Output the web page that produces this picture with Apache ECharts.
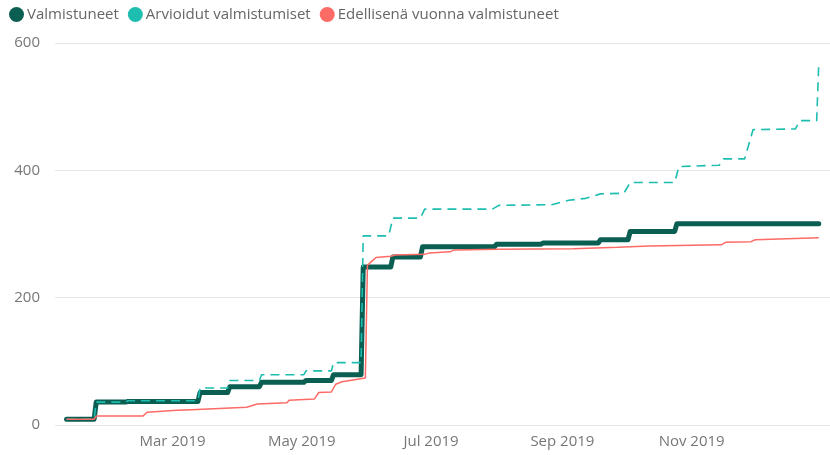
<!DOCTYPE html>
<html>
<head>
<meta charset="utf-8">
<script src="https://cdn.jsdelivr.net/npm/echarts@6/dist/echarts.min.js"></script>
<style>
  html, body { margin: 0; padding: 0; background: #ffffff; }
  #chart { width: 830px; height: 455px; }
</style>
</head>
<body>
<div id="chart"></div>
<script>
// Series names as shown in the legend
const seriesNames = ['Valmistuneet', 'Arvioidut valmistumiset', 'Edellisenä vuonna valmistuneet'];

// Cumulative completions (daily change points)
const completedDates = ['2019-01-10','2019-01-23','2019-01-24','2019-02-07','2019-02-08','2019-03-13','2019-03-14',
  '2019-03-27','2019-03-28','2019-04-11','2019-04-12','2019-05-02','2019-05-03','2019-05-15','2019-05-16',
  '2019-05-29','2019-05-30','2019-06-12','2019-06-13','2019-06-26','2019-06-27','2019-07-31','2019-08-01',
  '2019-08-22','2019-08-23','2019-09-18','2019-09-19','2019-10-02','2019-10-03','2019-10-24','2019-10-25','2019-12-31'];
const completedValues = [9, 9, 36, 36, 37, 37, 51,
  51, 60, 60, 67, 67, 70, 70, 79,
  79, 248, 248, 264, 264, 280, 280, 284,
  284, 286, 286, 291, 291, 304, 304, 316, 316];

// Estimated cumulative completions
const estimatedDates = ['2019-01-10','2019-01-23','2019-01-24','2019-02-07','2019-02-08','2019-03-13','2019-03-14',
  '2019-03-27','2019-03-28','2019-04-11','2019-04-12','2019-05-02','2019-05-03','2019-05-15','2019-05-16',
  '2019-05-29','2019-05-30','2019-06-11','2019-06-13','2019-06-26','2019-06-28','2019-07-30','2019-08-02',
  '2019-08-27','2019-09-04','2019-09-12','2019-09-19','2019-09-30','2019-10-03','2019-10-24','2019-10-26',
  '2019-11-14','2019-11-16','2019-11-26','2019-11-30','2019-12-20','2019-12-22','2019-12-30','2019-12-31'];
const estimatedValues = [9, 9, 36, 36, 38, 38, 58,
  58, 70, 70, 79, 79, 85, 85, 98,
  98, 297, 297, 325, 325, 339, 339, 345,
  346, 353, 356, 363, 364, 381, 381, 406,
  408, 418, 418, 464, 465, 478, 478, 569];

// Previous year's cumulative completions
const prevYearDates = ['2019-01-10','2019-01-23','2019-01-24','2019-02-15','2019-02-17','2019-03-03','2019-03-10',
  '2019-04-05','2019-04-10','2019-04-24','2019-04-25','2019-05-07','2019-05-09','2019-05-15','2019-05-17',
  '2019-05-20','2019-05-31','2019-06-01','2019-06-03','2019-06-05','2019-06-12','2019-06-14','2019-06-28',
  '2019-06-30','2019-07-10','2019-07-12','2019-08-02','2019-09-06','2019-09-27','2019-10-12','2019-11-15',
  '2019-11-17','2019-11-29','2019-12-01','2019-12-31'];
const prevYearValues = [9, 9, 14, 14, 20, 23, 24,
  28, 33, 35, 39, 41, 51, 52, 64,
  68, 74, 251, 257, 263, 265, 267, 268,
  270, 272, 275, 276, 277, 279, 281, 283,
  287, 288, 291, 294];

// Axis labels
const monthTicks = ['2019-03-01', '2019-05-01', '2019-07-01', '2019-09-01', '2019-11-01'];
const monthLabels = ['Mar 2019', 'May 2019', 'Jul 2019', 'Sep 2019', 'Nov 2019'];
const yTicks = [0, 200, 400, 600];

const colors = ['#0b5e52', '#1dbdb0', '#fd6b66'];
const font = '"Segoe UI", "Open Sans", "Noto Sans", sans-serif';

function toTime(d) { return new Date(d.length > 10 ? d + 'Z' : d + 'T00:00:00Z').getTime(); }
function pairs(dates, values) { return dates.map((d, i) => [toTime(d), values[i]]); }

const tickTimes = monthTicks.map(toTime);

const chart = echarts.init(document.getElementById('chart'), null, { renderer: 'canvas' });
chart.setOption({
  animation: false,
  color: colors,
  textStyle: { fontFamily: font },
  legend: {
    data: seriesNames.map(n => ({ name: n, icon: 'circle' })),
    left: 4,
    top: 2,
    itemWidth: 15,
    itemHeight: 15,
    itemGap: 9,
    textStyle: { color: '#666666', fontSize: 15, fontFamily: font, padding: [0, 0, 0, -2] }
  },
  grid: { left: 55, right: 0, top: 43, bottom: 30, containLabel: false },
  xAxis: {
    // timestamps on a linear scale, labelled at the first day of every other month
    type: 'value',
    min: toTime('2019-01-04T13:00:00'),
    max: toTime('2020-01-05T07:00:00'),
    axisLine: { show: false },
    axisTick: { show: false },
    splitLine: { show: false },
    axisLabel: {
      customValues: tickTimes,
      color: '#777777',
      fontSize: 15,
      margin: 9,
      fontFamily: font,
      formatter: function (v) {
        const i = tickTimes.indexOf(v);
        return i >= 0 ? monthLabels[i] : '';
      }
    }
  },
  yAxis: {
    type: 'value',
    min: yTicks[0],
    max: yTicks[yTicks.length - 1],
    interval: 200,
    axisLine: { show: false },
    axisTick: { show: false },
    splitLine: { lineStyle: { color: '#e6e6e6', width: 1 } },
    axisLabel: { color: '#777777', fontSize: 15, margin: 15, fontFamily: font }
  },
  series: [
    {
      name: seriesNames[0],
      type: 'line',
      data: pairs(completedDates, completedValues),
      showSymbol: false,
      lineStyle: { width: 5, color: colors[0], cap: 'round', join: 'round' }
    },
    {
      name: seriesNames[1],
      type: 'line',
      data: pairs(estimatedDates, estimatedValues),
      showSymbol: false,
      lineStyle: { width: 1.6, color: colors[1], type: [9, 6] }
    },
    {
      name: seriesNames[2],
      type: 'line',
      data: pairs(prevYearDates, prevYearValues),
      showSymbol: false,
      lineStyle: { width: 1.5, color: colors[2] }
    }
  ]
});
</script>
</body>
</html>
